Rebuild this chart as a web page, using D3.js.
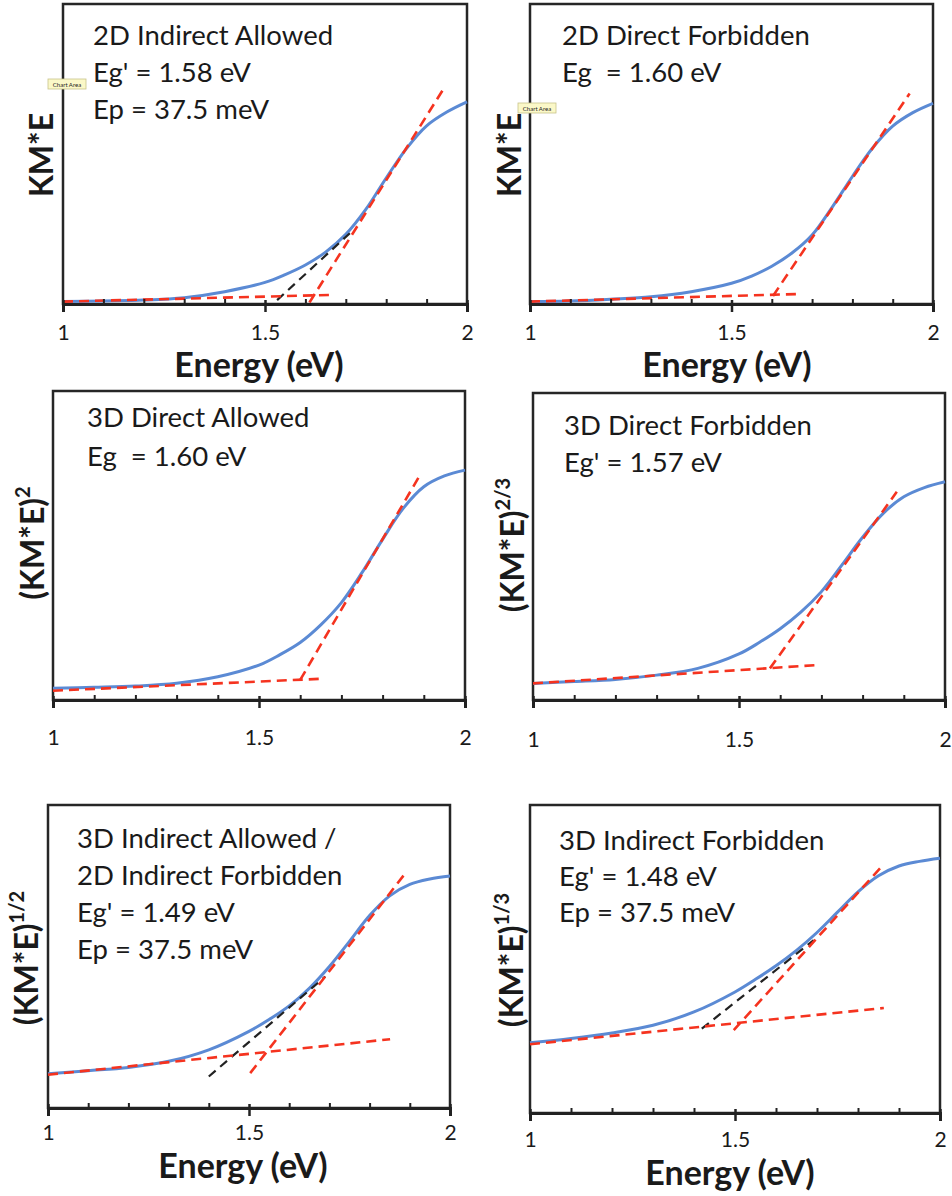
<!DOCTYPE html>
<html><head><meta charset="utf-8">
<script src="https://cdn.jsdelivr.net/npm/d3@7"></script>
<style>
html,body{margin:0;padding:0;background:#fff;}
svg{display:block;}
text{font-family:Lato,"Open Sans",sans-serif;fill:#1a1a1a;}
</style></head>
<body>
<svg id="chart" width="952" height="1196"></svg>
<script>
// ---------- data ----------
const energy = [1.0,1.1,1.2,1.3,1.4,1.5,1.55,1.6,1.65,1.7,1.75,1.8,1.85,1.9,1.95,2.0];
const majorTicks = [1, 1.5, 2];
const majorTickLabels = ["1","1.5","2"];
const minorTicks = [1.1,1.2,1.3,1.4,1.6,1.7,1.8,1.9];

// normalised transformed KM*E (0 = axis line, 100 = top of frame)
const km2dIndirectAllowed  = [0.8,1.0,1.3,2.1,4.1,7.2,9.8,13,17.3,23.2,31.6,42,51.8,59.4,64,67.4];
const km2dDirectForbidden  = [0.8,1.0,1.6,2.4,4.1,6.9,9.3,12.6,17,23,32.3,42.5,52,59.3,63.8,66.9];
const km3dDirectAllowed    = [3.8,4.1,4.5,5.4,7.5,11.3,14.6,18.6,24.3,31.5,41.2,52,62,69,72.5,74.4];
const km3dDirectForbidden  = [5.4,6.0,6.7,8.1,10.3,15,18.8,23.2,28.6,35.3,44,53,60.8,66.2,69.2,71.1];
const km3dIndirectAllowed  = [11.3,12.3,13.4,15.4,19.2,25.3,29.2,33.7,39.5,46.7,55,63.5,70,73.8,75.6,76.6];
const km3dIndirectForbidden= [22.8,24.2,26,28.5,32.8,39.3,43.4,47.8,52.8,58.6,65.2,71.8,77,80.2,81.7,82.7];

// fitted tangent lines: [[E0,y0],[E1,y1]]
const fitBase1  = [[1.0,0.8],[1.66,3.0]];
const fitSteep1 = [[1.61,0.5],[1.94,71.3]];
const fitPhon1  = [[1.53,1.3],[1.71,23.6]];
const fitBase2  = [[1.0,0.8],[1.66,3.3]];
const fitSteep2 = [[1.603,2.7],[1.942,70.2]];
const fitBase3  = [[1.0,3.0],[1.656,6.9]];
const fitSteep3 = [[1.6,6.5],[1.893,73.3]];
const fitBase4  = [[1.0,5.4],[1.692,11.4]];
const fitSteep4 = [[1.575,10.3],[1.883,67.8]];
const fitBase5  = [[1.0,11],[1.851,22.7]];
const fitSteep5 = [[1.503,11.5],[1.892,78]];
const fitPhon5  = [[1.4,10.4],[1.69,43.4]];
const fitBase6  = [[1.0,22.3],[1.863,34.1]];
const fitSteep6 = [[1.497,26.9],[1.859,80.2]];
const fitPhon6  = [[1.419,27.4],[1.692,56.1]];

const notes1 = ["2D Indirect Allowed","Eg' = 1.58 eV","Ep = 37.5 meV"];
const notes2 = ["2D Direct Forbidden","Eg  = 1.60 eV"];
const notes3 = ["3D Direct Allowed","Eg  = 1.60 eV"];
const notes4 = ["3D Direct Forbidden","Eg' = 1.57 eV"];
const notes5 = ["3D Indirect Allowed /","2D Indirect Forbidden","Eg' = 1.49 eV","Ep = 37.5 meV"];
const notes6 = ["3D Indirect Forbidden","Eg' = 1.48 eV","Ep = 37.5 meV"];

const yBase = ["KM*E","KM*E","(KM*E)","(KM*E)","(KM*E)","(KM*E)"];
const yPow  = ["","","2","2/3","1/2","1/3"];
const xTitle = "Energy (eV)";

// ---------- layout ----------
const panels = [
  {series:km2dIndirectAllowed, fits:[fitBase1,fitSteep1], blk:[fitPhon1], notes:notes1,
   L:63,R:467,T:4,B:304, nx:93,ny:45, yl:[42,155], tickY:333, title:[259,365], chip:[48,79]},
  {series:km2dDirectForbidden, fits:[fitBase2,fitSteep2], blk:[], notes:notes2,
   L:530,R:933,T:4,B:304, nx:562,ny:45, yl:[510,155], tickY:333, title:[727,365], chip:[518,103]},
  {series:km3dDirectAllowed, fits:[fitBase3,fitSteep3], blk:[], notes:notes3,
   L:53,R:465,T:391,B:700, nx:87,ny:427, yl:[33,543], tickY:738, title:null},
  {series:km3dDirectForbidden, fits:[fitBase4,fitSteep4], blk:[], notes:notes4,
   L:533,R:945,T:393,B:700, nx:564,ny:435, yl:[513,545], tickY:740, title:null},
  {series:km3dIndirectAllowed, fits:[fitBase5,fitSteep5], blk:[fitPhon5], notes:notes5,
   L:48,R:450,T:805,B:1108, nx:77,ny:848, yl:[27,958], tickY:1133, title:[243,1166]},
  {series:km3dIndirectForbidden, fits:[fitBase6,fitSteep6], blk:[fitPhon6], notes:notes6,
   L:530,R:940,T:805,B:1113, nx:559,ny:850, yl:[512,960], tickY:1140, title:[730,1173]},
];
const lineGap = [37,37,39,37,37,36];

const svg = d3.select("#chart");

panels.forEach((p,i)=>{
  const x = d3.scaleLinear().domain([1,2]).range([p.L,p.R]);
  const y = d3.scaleLinear().domain([0,100]).range([p.B,p.T]);
  const g = svg.append("g");

  // frame
  g.append("rect").attr("x",p.L).attr("y",p.T).attr("width",p.R-p.L).attr("height",p.B-p.T)
    .attr("fill","none").attr("stroke","#262626").attr("stroke-width",2.5);

  // data curve
  const line = d3.line().x(d=>x(d[0])).y(d=>y(d[1])).curve(d3.curveCatmullRom.alpha(0.5));
  const pts = energy.map((e,k)=>[e,p.series[k]]);
  g.append("path").datum(pts).attr("d",line).attr("fill","none")
    .attr("stroke","#5b8ad4").attr("stroke-width",3);

  // tangents
  const straight = d3.line().x(d=>x(d[0])).y(d=>y(d[1]));
  p.blk.forEach(f=>g.append("path").datum(f).attr("d",straight).attr("fill","none")
    .attr("stroke","#222").attr("stroke-width",2.2).attr("stroke-dasharray","9,6"));
  p.fits.forEach(f=>g.append("path").datum(f).attr("d",straight).attr("fill","none")
    .attr("stroke","#f5331f").attr("stroke-width",2.6).attr("stroke-dasharray","10,6"));

  // minor ticks (inward)
  const minor = d3.axisBottom(x).tickValues(minorTicks).tickSize(-5).tickFormat("");
  const gm = g.append("g").attr("transform",`translate(0,${p.B})`).call(minor);
  gm.select(".domain").remove();
  gm.selectAll(".tick line").attr("stroke","#222").attr("stroke-width",2);

  // major axis
  const major = d3.axisBottom(x).tickValues(majorTicks).tickSize(8).tickPadding(0)
      .tickFormat((d,k)=>majorTickLabels[k]);
  const ga = g.append("g").attr("transform",`translate(0,${p.B})`).call(major);
  ga.select(".domain").attr("stroke","#222").attr("stroke-width",3);
  ga.selectAll(".tick line").attr("y1",-4).attr("stroke","#222").attr("stroke-width",2.5);
  ga.selectAll(".tick text").attr("y",p.tickY-p.B).attr("dy","0.35em")
    .style("font-family","Lato, sans-serif").style("font-size","21px").attr("fill","#2a2a2a");

  // annotation text
  p.notes.forEach((t,k)=>g.append("text").attr("x",p.nx).attr("y",p.ny+k*lineGap[i])
    .style("font-size","27.5px").style("white-space","pre").text(t));

  // y-axis label
  const yt = g.append("text").attr("transform",`translate(${p.yl[0]},${p.yl[1]}) rotate(-90)`)
    .attr("text-anchor","middle").attr("dy","0.35em")
    .style("font-size","32px").style("font-weight","bold");
  yt.append("tspan").text(yBase[i]);
  if (yPow[i]) yt.append("tspan").attr("dy","-0.7em").style("font-size","20px").text(yPow[i]);

  // x-axis title
  if (p.title) g.append("text").attr("x",p.title[0]).attr("y",p.title[1]).attr("dy","0.35em")
    .attr("text-anchor","middle").style("font-size","34px").style("font-weight","bold").text(xTitle);

  // "Chart Area" tooltip chip artefact
  if (p.chip){
    g.append("rect").attr("x",p.chip[0]).attr("y",p.chip[1]).attr("width",38).attr("height",10)
      .attr("fill","#fbf8c8").attr("stroke","#c9c38a").attr("stroke-width",0.8);
    g.append("text").attr("x",p.chip[0]+19).attr("y",p.chip[1]+7.5).attr("text-anchor","middle")
      .style("font-size","6px").attr("fill","#777").text("Chart Area");
  }
});
</script>
</body></html>
